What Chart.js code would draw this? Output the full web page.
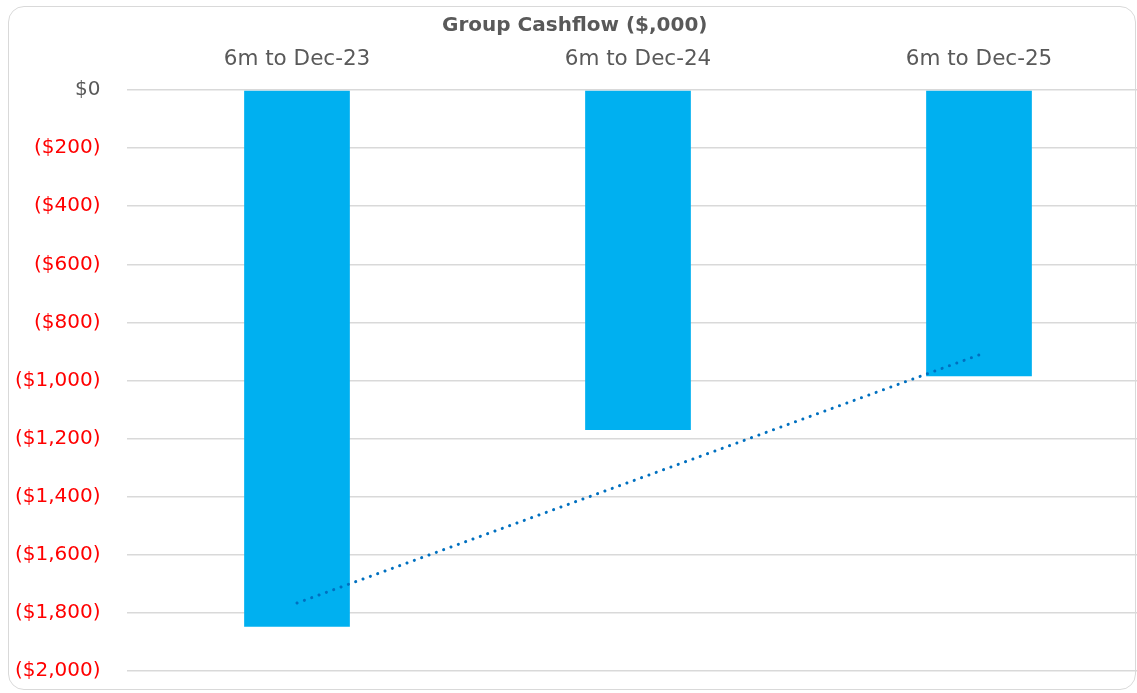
<!DOCTYPE html>
<html><head><meta charset="utf-8">
<script src="https://cdn.jsdelivr.net/npm/chart.js@4.4.1/dist/chart.umd.min.js"></script>
<style>
html,body{margin:0;padding:0;background:#fff;overflow:hidden;width:1137px;height:693px;}
#wrap{position:absolute;left:0;top:0;width:1182px;height:693px;}
#frame{position:absolute;left:8px;top:6px;width:1128px;height:684px;border:1.5px solid #d9d9d9;border-radius:16px;box-sizing:border-box;pointer-events:none;}
</style></head>
<body>
<div id="wrap"><canvas id="c" width="1182" height="693"></canvas></div>
<div id="frame"></div>
<script>
const categories = ["6m to Dec-23", "6m to Dec-24", "6m to Dec-25"];
const cashflow = [-1848, -1170, -985];
const trend = [-1766, -1339, -912];
const yTicks = [0, -200, -400, -600, -800, -1000, -1200, -1400, -1600, -1800, -2000];

const FONT = "'DejaVu Sans', sans-serif";
const GREY = '#595959';

function fmt(v){
  if (v === 0) return '$0';
  const a = Math.abs(v).toLocaleString('en-US');
  return v < 0 ? '($' + a + ')' : '$' + a;
}

new Chart(document.getElementById('c'), {
  data: {
    labels: categories,
    datasets: [
      { type: 'line', data: trend, borderColor: '#0070C0', borderWidth: 3,
        borderDash: [0.1, 7.7], borderCapStyle: 'round', pointRadius: 0, fill: false, order: 0 },
      { type: 'bar', data: cashflow, backgroundColor: '#00B0F0',
        categoryPercentage: 1, barPercentage: 0.31, order: 1 }
    ]
  },
  options: {
    responsive: false, animation: false,
    layout: { padding: { left: 0, right: 32.5, top: 0, bottom: 22 } },
    plugins: {
      legend: { display: false }, tooltip: { enabled: false },
      title: { display: true, text: 'Group Cashflow ($,000)', color: GREY,
        font: { family: FONT, size: 20, weight: 'bold' }, padding: { top: 14, bottom: 2 } }
    },
    scales: {
      x: { position: 'top', grid: { display: false, drawTicks: false }, border: { display: false },
        ticks: { color: GREY, font: { family: FONT, size: 21.5 }, padding: 18 },
        afterFit: s => { s.height = 50; } },
      y: { min: -2000, max: 0,
        afterBuildTicks: s => { s.ticks = yTicks.map(v => ({ value: v })); },
        grid: { color: '#d9d9d9', lineWidth: 1.5, drawTicks: false }, border: { display: false },
        ticks: { callback: v => fmt(v), padding: 26,
          color: c => (c.tick && c.tick.value < 0) ? '#FF0000' : GREY,
          font: { family: FONT, size: 20 } },
        afterFit: s => { s.width = 126.5; s.paddingTop = 0; s.paddingBottom = 0; } }
    }
  }
});
</script>
</body></html>
